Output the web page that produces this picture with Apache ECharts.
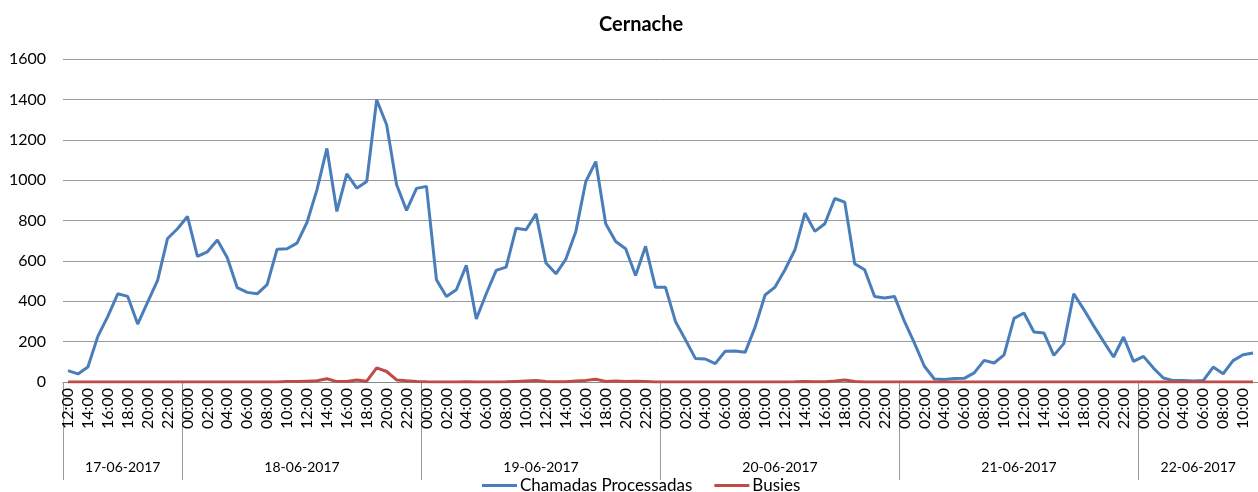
<!DOCTYPE html>
<html>
<head>
<meta charset="utf-8">
<script src="https://cdn.jsdelivr.net/npm/echarts@6/dist/echarts.min.js"></script>
<style>
  html, body { margin: 0; padding: 0; background: #fff; }
  #chart { width: 1258px; height: 492px; }
</style>
</head>
<body>
<div id="chart"></div>
<script>
// ---- Data ----
const titleText = 'Cernache';
const dayLabels = ['17-06-2017', '18-06-2017', '19-06-2017', '20-06-2017', '21-06-2017', '22-06-2017'];
const dayStartHour = [12, 0, 0, 0, 0, 0];
const dayHourCount = [12, 24, 24, 24, 24, 12];
const seriesNames = ['Chamadas Processadas', 'Busies'];
const yTicks = [0, 200, 400, 600, 800, 1000, 1200, 1400, 1600];

const chamadas = [
  56, 40, 74, 226, 325, 437, 424, 287, 396, 503, 711, 759,
  820, 622, 645, 703, 615, 467, 444, 437, 482, 658, 660, 688, 790, 952, 1157, 845, 1031, 960, 993, 1398, 1274, 977, 850, 959,
  969, 507, 424, 457, 578, 312, 437, 553, 569, 762, 754, 833, 589, 536, 609, 746, 993, 1092, 784, 696, 660, 528, 672, 469,
  469, 300, 210, 117, 114, 91, 152, 153, 147, 272, 431, 470, 556, 655, 837, 746, 784, 909, 891, 586, 556, 424, 416, 424,
  300, 193, 78, 15, 12, 17, 18, 45, 107, 94, 134, 315, 342, 248, 243, 132, 190, 437, 360, 278, 200, 124, 223, 102,
  127, 69, 20, 7, 7, 5, 7, 74, 41, 106, 135, 144
];
const busies = [
  0, 0, 0, 0, 0, 0, 0, 0, 0, 0, 0, 0,
  0, 0, 0, 0, 0, 0, 0, 0, 0, 0, 2, 2, 4, 6, 16, 2, 2, 10, 4, 70, 52, 10, 6, 3,
  1, 0, 0, 0, 1, 0, 0, 0, 1, 3, 5, 7, 2, 1, 1, 5, 8, 14, 3, 5, 2, 4, 3, 0,
  0, 0, 0, 0, 0, 0, 0, 0, 0, 0, 0, 0, 0, 1, 3, 1, 1, 5, 10, 2, 0, 0, 0, 0,
  0, 0, 0, 0, 0, 0, 0, 0, 0, 0, 0, 0, 0, 0, 0, 0, 0, 0, 0, 0, 0, 0, 0, 0,
  0, 0, 0, 0, 0, 0, 0, 0, 0, 0, 0, 0
];

// ---- Derived axis helpers ----
const hourCats = [];
const dayBounds = [0];
const dayCenters = [];
let acc = 0;
dayLabels.forEach((d, k) => {
  for (let h = 0; h < dayHourCount[k]; h++) {
    const hh = dayStartHour[k] + h;
    hourCats.push((hh < 10 ? '0' : '') + hh + ':00');
  }
  dayCenters.push(acc + dayHourCount[k] / 2);
  acc += dayHourCount[k];
  dayBounds.push(acc);
});

const FONT = 'Lato';
const chart = echarts.init(document.getElementById('chart'), null, { renderer: 'canvas' });
chart.setOption({
  animation: false,
  backgroundColor: '#ffffff',
  textStyle: { fontFamily: FONT, color: '#000' },
  title: {
    text: titleText,
    left: 594, top: 10,
    textStyle: { fontFamily: FONT, fontWeight: 'bold', fontSize: 20, color: '#000' }
  },
  legend: {
    data: seriesNames,
    left: 477, top: 472,
    icon: 'rect', itemWidth: 35, itemHeight: 3, itemGap: 22,
    textStyle: { fontFamily: FONT, fontSize: 17, color: '#000', padding: [0, 0, 0, -2] }
  },
  grid: { left: 63, top: 59, width: 1200, height: 323, containLabel: false },
  xAxis: [
    {
      type: 'category',
      data: hourCats,
      boundaryGap: true,
      axisLine: { show: true, lineStyle: { color: '#888', width: 1 } },
      axisTick: { show: false },
      axisLabel: {
        interval: 1, rotate: 90, margin: 6,
        fontFamily: FONT, fontSize: 16, color: '#000'
      },
      splitLine: { show: false }
    },
    {
      type: 'value',
      position: 'bottom',
      min: 0, max: acc,
      axisLine: { show: false },
      axisTick: {
        show: true, length: 98, inside: false,
        customValues: dayBounds,
        lineStyle: { color: '#999', width: 1 }
      },
      axisLabel: {
        show: true, margin: 78,
        customValues: dayCenters,
        formatter: function (v) {
          const i = dayCenters.indexOf(v);
          return i >= 0 ? dayLabels[i] : '';
        },
        fontFamily: FONT, fontSize: 14, color: '#000'
      },
      splitLine: { show: false }
    }
  ],
  yAxis: {
    type: 'value',
    min: yTicks[0], max: yTicks[yTicks.length - 1], interval: yTicks[1] - yTicks[0],
    axisLine: { show: false },
    axisTick: { show: false },
    axisLabel: {
      margin: 17, fontFamily: FONT, fontSize: 16, color: '#000',
      formatter: function (v) { return String(v); }
    },
    splitLine: { show: true, lineStyle: { color: '#9a9a9a', width: 1 } }
  },
  series: [
    {
      name: seriesNames[0], type: 'line', xAxisIndex: 0,
      data: chamadas, symbol: 'none',
      lineStyle: { color: '#4a7ebb', width: 3 },
      itemStyle: { color: '#4a7ebb' }
    },
    {
      name: seriesNames[1], type: 'line', xAxisIndex: 0,
      data: busies, symbol: 'none',
      lineStyle: { color: '#be4b48', width: 3 },
      itemStyle: { color: '#be4b48' }
    }
  ]
});
</script>
</body>
</html>
